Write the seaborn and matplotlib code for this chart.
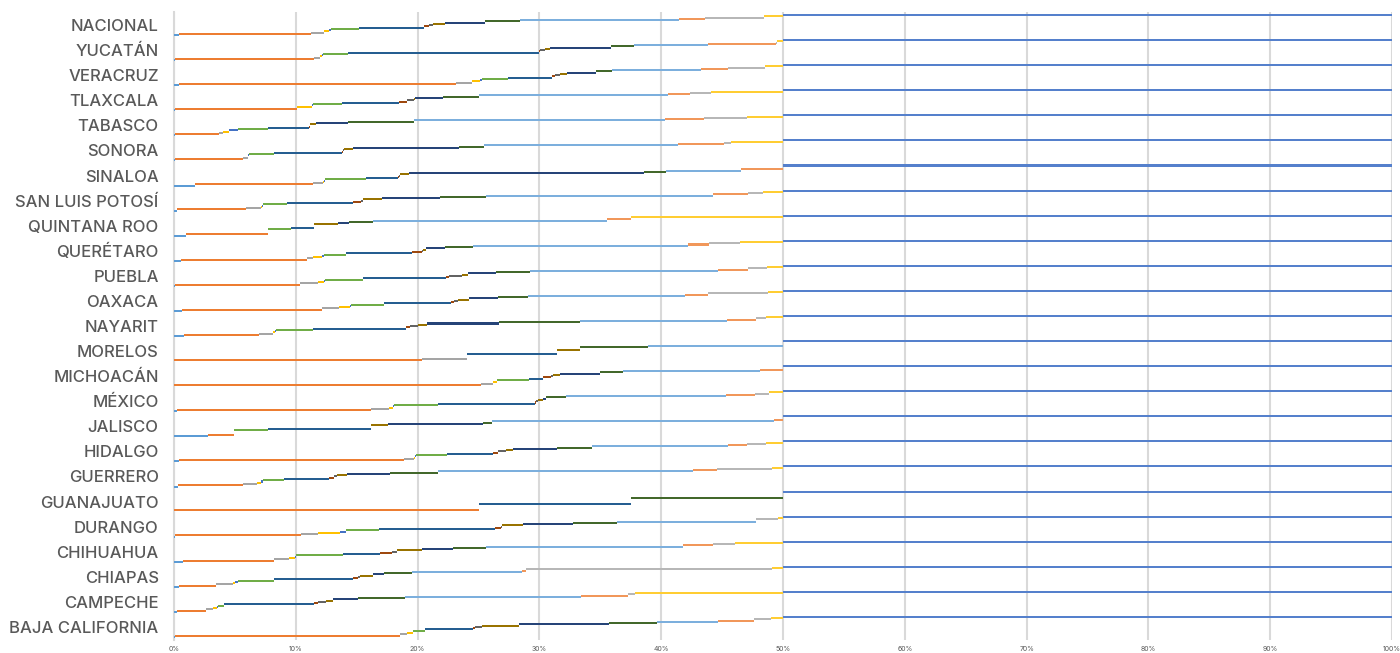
import numpy as np
import pandas as pd
import matplotlib
matplotlib.use("Agg")
import matplotlib.pyplot as plt
import seaborn as sns

# estados, de abajo hacia arriba (como en el eje de Excel)
estados = ["BAJA CALIFORNIA", "CAMPECHE", "CHIAPAS", "CHIHUAHUA", "DURANGO",
           "GUANAJUATO", "GUERRERO", "HIDALGO", "JALISCO", "MÉXICO",
           "MICHOACÁN", "MORELOS", "NAYARIT", "OAXACA", "PUEBLA",
           "QUERÉTARO", "QUINTANA ROO", "SAN LUIS POTOSÍ", "SINALOA", "SONORA",
           "TABASCO", "TLAXCALA", "VERACRUZ", "YUCATÁN", "NACIONAL"]

# 16 segmentos por estado (%), el 17o es el resto hasta 100%
baja_california = [0.05, 18.5, 0.55, 0.49, 0.05, 0.96, 3.98, 0.13, 0.55, 3.06, 7.39, 3.92, 5.01, 3.0, 1.37, 0.99]
campeche = [0.27, 2.36, 0.6, 0.33, 0.05, 0.5, 7.41, 0.33, 0.6, 0.58, 2.1, 3.84, 14.44, 3.84, 0.6, 12.15]
chiapas = [0.41, 3.04, 1.42, 0.16, 0.25, 2.93, 6.46, 0.41, 0.19, 1.1, 0.87, 2.27, 9.03, 0.36, 20.17, 0.93]
chihuahua = [0.71, 7.5, 1.23, 0.49, 0.05, 3.92, 3.01, 0.96, 0.47, 2.05, 2.49, 2.73, 16.15, 2.52, 1.78, 3.94]
durango = [0.05, 10.35, 1.4, 1.83, 0.46, 2.74, 9.52, 0.5, 0.05, 1.72, 4.11, 3.64, 11.39, 0.05, 1.75, 0.44]
guanajuato = [0, 25.0, 0, 0, 0, 0, 12.5, 0, 0, 0, 0, 12.5, 0, 0, 0, 0]
guerrero = [0.36, 5.28, 1.15, 0.35, 0.14, 1.75, 3.7, 0.41, 0.22, 0.87, 3.5, 3.92, 20.93, 2.0, 4.52, 0.9]
hidalgo = [0.44, 18.44, 0.82, 0.05, 0.12, 2.52, 3.83, 0.35, 0.66, 0.63, 3.56, 2.87, 11.22, 1.51, 1.58, 1.4]
jalisco = [2.82, 2.11, 0, 0, 0, 2.76, 8.48, 0, 0, 1.43, 7.74, 0.74, 23.21, 0.71, 0, 0]
mexico = [0.27, 15.9, 1.48, 0.36, 0.05, 3.64, 7.94, 0.05, 0.22, 0.41, 0.19, 1.67, 13.11, 2.38, 1.15, 1.18]
michoacan = [0, 25.2, 1.02, 0.33, 0, 2.62, 1.15, 0.63, 0.14, 0.6, 3.28, 1.89, 11.25, 1.89, 0, 0]
morelos = [0, 20.33, 3.7, 0, 0, 0, 7.39, 0, 0, 1.91, 0, 5.56, 11.11, 0, 0, 0]
nayarit = [0.82, 6.16, 1.18, 0.13, 0.06, 3.03, 7.67, 0.33, 0.62, 0.75, 5.96, 6.62, 12.04, 2.41, 0.82, 1.4]
oaxaca = [0.63, 11.55, 1.39, 0.88, 0.05, 2.74, 5.48, 0.27, 0.3, 0.96, 2.32, 2.47, 12.91, 1.92, 4.93, 1.2]
puebla = [0.1, 10.24, 1.51, 0.49, 0.05, 3.15, 6.76, 0.28, 1.04, 0.54, 2.25, 2.82, 15.46, 2.44, 1.58, 1.29]
queretaro = [0.55, 10.37, 0.46, 0.74, 0.2, 1.77, 5.42, 0.88, 0.06, 0.24, 1.56, 2.3, 17.62, 1.78, 2.52, 3.53]
quintana_roo = [0.96, 6.73, 0, 0, 0, 1.89, 1.94, 0, 0, 1.92, 0.96, 1.91, 19.24, 1.94, 0, 12.51]
san_luis_potosi = [0.22, 5.69, 1.23, 0.05, 0.14, 1.92, 5.47, 0.63, 0.15, 1.55, 4.79, 3.77, 18.61, 2.88, 1.28, 1.62]
sinaloa = [1.72, 9.66, 0.88, 0.05, 0.05, 3.43, 2.63, 0.05, 0.05, 0.77, 19.3, 1.78, 6.15, 3.48, 0, 0]
sonora = [0.05, 5.64, 0.36, 0.05, 0.05, 2.06, 5.58, 0.06, 0.08, 0.74, 8.76, 2.02, 15.96, 3.74, 0.55, 4.3]
tabasco = [0.1, 3.62, 0.33, 0.49, 0.71, 2.44, 3.39, 0.05, 0.05, 0.45, 2.63, 5.44, 20.61, 3.2, 3.51, 2.98]
tlaxcala = [0.05, 10.02, 0.05, 1.23, 0.05, 2.36, 4.71, 0.63, 0.6, 0.05, 2.33, 2.96, 15.51, 1.78, 1.78, 5.89]
veracruz = [0.41, 22.74, 1.29, 0.68, 0.14, 2.19, 3.55, 0.28, 0.41, 0.6, 2.33, 1.31, 7.31, 2.24, 3.01, 1.51]
yucatan = [0.05, 11.47, 0.47, 0.16, 0.05, 2.06, 15.74, 0.08, 0.35, 0.44, 5.01, 1.86, 6.13, 5.55, 0.05, 0.53]
nacional = [0.4, 10.85, 1.05, 0.45, 0.1, 2.35, 5.3, 0.4, 0.4, 0.95, 3.25, 2.9, 13.1, 2.1, 4.8, 1.6]
resto = [50] * len(estados)

valores = [baja_california, campeche, chiapas, chihuahua, durango, guanajuato,
           guerrero, hidalgo, jalisco, mexico, michoacan, morelos, nayarit,
           oaxaca, puebla, queretaro, quintana_roo, san_luis_potosi, sinaloa,
           sonora, tabasco, tlaxcala, veracruz, yucatan, nacional]

series = ["s%d" % (i + 1) for i in range(17)]
colores = ["#5B9BD5", "#ED7D31", "#A5A5A5", "#FFC000", "#4472C4", "#70AD47",
           "#255E91", "#9E480E", "#636363", "#997300", "#264478", "#43682B",
           "#7CAFDD", "#F1975A", "#B7B7B7", "#FFCD33", "#5580CC"]

df = pd.DataFrame(valores, index=estados, columns=series[:16])
df[series[16]] = resto
inicio = df.cumsum(axis=1) - df

sns.set_theme(style="white")
plt.rcParams['font.family'] = ['Inter', 'DejaVu Sans']

fig = plt.figure(figsize=(14, 6.53), dpi=100)
ax = fig.add_axes([0.1243, 0.0199, 0.87, 0.9617])

ypos = np.arange(len(estados))
for k, col in enumerate(series):
    ax.barh(ypos + (k - 8) * 0.05, df[col], left=inicio[col], height=0.08,
            color=colores[k], linewidth=0, zorder=3)

ax.set_xlim(0, 100)
ax.set_ylim(-0.52, 24.52)
ax.set_xticks(np.arange(0, 101, 10))
ax.set_xticklabels(["%d%%" % v for v in range(0, 101, 10)], fontsize=5, color="#595959")
ax.set_yticks(ypos)
ax.set_yticklabels(estados, fontsize=12, color="#595959", fontweight="medium")
ax.tick_params(axis="y", length=0, pad=11)
ax.tick_params(axis="x", length=0, pad=4)
ax.grid(axis="x", color="#d9d9d9", linewidth=1.5, zorder=0)
ax.grid(axis="y", visible=False)
for s in ["top", "right", "bottom"]:
    ax.spines[s].set_visible(False)
ax.spines["left"].set_color("#d9d9d9")
ax.spines["left"].set_linewidth(1.5)

fig.savefig("out.png", dpi=100)
